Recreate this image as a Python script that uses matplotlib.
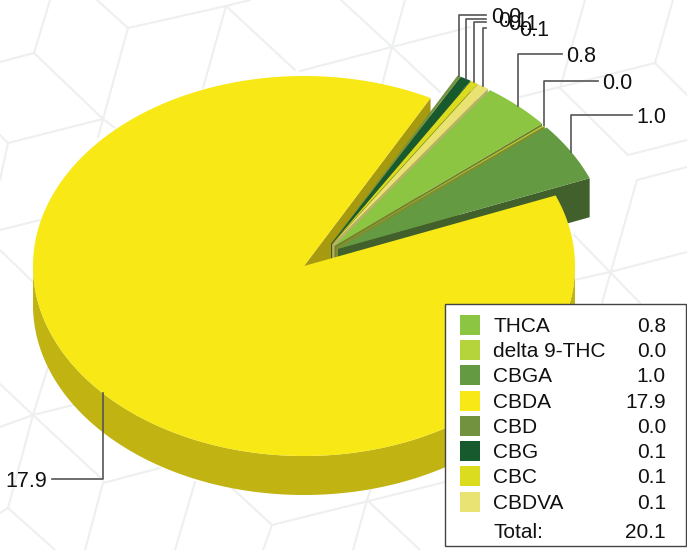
import numpy as np
import matplotlib
matplotlib.use('Agg')
import matplotlib.pyplot as plt
from matplotlib.patches import Polygon, Rectangle

plt.rcParams['font.family'] = ['Liberation Sans', 'DejaVu Sans']

# values, the labels only show one decimal
names = ['THCA', 'delta 9-THC', 'CBGA', 'CBDA', 'CBD', 'CBG', 'CBC', 'CBDVA']
values = [0.84, 0.02, 1.0, 17.9, 0.04, 0.13, 0.09, 0.14]
total_label = '20.1'
colors = ['#8bc541', '#b5d33a', '#649a41', '#f7e816', '#72923f', '#165a2e', '#dbdc1f', '#e8e372']
wall_colors = ['#73802c', '#7f8f30', '#41602b', '#a89a0e', '#5a7430', '#0f3f20', '#9a9a16', '#b8b06a']

# background cube pattern, pixel segments
bg_lines = [
    ((0, 62), (34, 53)), ((34, 53), (50, 0)), ((34, 53), (103, 119)), ((103, 119), (128, 28)),
    ((128, 28), (97, 0)), ((128, 28), (226, 6)), ((226, 6), (203, 88)), ((226, 6), (295, 70)),
    ((226, 6), (250, 0)), ((103, 119), (8, 143)), ((8, 143), (0, 135)), ((8, 143), (0, 180)),
    ((103, 119), (98, 137)), ((103, 119), (115, 128)), ((0, 230), (40, 220)), ((0, 250), (33, 282)),
    ((392, 47), (341, 0)), ((392, 47), (405, 0)), ((392, 47), (382, 85)), ((392, 47), (300, 71)),
    ((392, 47), (440, 92)), ((392, 47), (470, 27)), ((520, 97), (655, 63)), ((585, 0), (560, 88)),
    ((673, 0), (655, 63)), ((655, 63), (687, 95)), ((628, 155), (560, 88)), ((628, 155), (687, 140)),
    ((637, 180), (687, 167)), ((637, 180), (602, 303)), ((610, 272), (574, 235)), ((610, 272), (574, 280)),
    ((610, 272), (640, 303)), ((610, 272), (687, 252)), ((33, 415), (0, 427)), ((33, 415), (73, 405)),
    ((33, 415), (48, 367)), ((33, 415), (103, 480)), ((33, 415), (0, 384)), ((33, 415), (8, 508)),
    ((8, 508), (0, 513)), ((8, 508), (55, 550)), ((103, 483), (160, 468)), ((103, 483), (85, 550)),
    ((195, 482), (175, 550)), ((232, 488), (272, 525)), ((272, 525), (263, 550)), ((272, 525), (445, 482)),
    ((367, 500), (353, 550)), ((367, 500), (420, 550)), ((367, 500), (371, 488)),
]

# pie layout in pixels
cx, cy = 304, 266
rx, ry = 271, 190
depth = 39
explode = 42
start_angle = 21.8 + 360 * (1.0 + 0.02 + 0.84) / sum(values)

fig = plt.figure(figsize=(6.87, 5.5), dpi=100)
ax = fig.add_axes([0, 0, 1, 1])
ax.set_xlim(0, 687)
ax.set_ylim(550, 0)
ax.axis('off')

for a, b in bg_lines:
    ax.plot([a[0], b[0]], [a[1], b[1]], color='#edeff0', lw=1.5, zorder=1, solid_capstyle='round')

# slices go clockwise
fracs = np.array(values) / sum(values) * 360
ends = start_angle - np.cumsum(fracs)
starts = ends + fracs


def rim(ox, oy, a0, a1):
    t = np.radians(np.linspace(a0, a1, max(int(abs(a1 - a0)) * 2, 2)))
    return np.column_stack([ox + rx * np.cos(t), oy - ry * np.sin(t)])


big = int(np.argmax(values))
offsets = []
for i in range(len(values)):
    if i == big:
        offsets.append((cx, cy))
    else:
        # the small slices are pulled out nearly together, not along their own middle
        m = ((starts[i] + ends[i]) / 2) % 360
        d = np.radians(36 + 0.45 * (m - 31))
        offsets.append((cx + explode * np.cos(d), cy - explode * 0.7 * np.sin(d)))

# big slice: front rim wall and the cut wall in the gap
ox, oy = offsets[big]
front = rim(ox, oy, 180, 360)
ax.add_patch(Polygon(np.vstack([front, (front + [0, depth])[::-1]]), fc='#c1b312', ec='none', zorder=2))
back = rim(ox, oy, ends[big], ends[big])[0]
ax.add_patch(Polygon([(ox, oy), back, back + [0, depth], (ox, oy + depth)], fc=wall_colors[big], ec='none', zorder=2))

# walls of the pulled out slices
order = [4, 5, 6, 7, 0, 1, 2]
for i in order:
    ox, oy = offsets[i]
    p = rim(ox, oy, ends[i], ends[i])[0]
    ax.add_patch(Polygon([(ox, oy), p, p + [0, depth], (ox, oy + depth)], fc=wall_colors[i], ec='none', zorder=3))

# top faces
ox, oy = offsets[big]
ax.add_patch(Polygon(np.vstack([[(ox, oy)], rim(ox, oy, starts[big], ends[big])]), fc=colors[big], ec='none', zorder=4))
for i in order:
    ox, oy = offsets[i]
    ax.add_patch(Polygon(np.vstack([[(ox, oy)], rim(ox, oy, starts[i], ends[i])]), fc=colors[i], ec='none', zorder=5))

# labels with leader lines
label_x = [566, 602, 636, 5, 491, 498, 508, 519]
label_y = [54, 81, 115, 479, 15, 19, 22, 28]
for i in range(len(values)):
    ox, oy = offsets[i]
    m = (starts[i] + ends[i]) / 2
    p = rim(ox, oy, m, m)[0]
    txt = '%.1f' % values[i]
    if i == big:
        end_x = 52
    elif i >= 4:
        end_x = 486
    else:
        end_x = label_x[i] - 4
    ax.plot([p[0], p[0], end_x], [p[1], label_y[i], label_y[i]], color='#555555', lw=1.2, zorder=6)
    ax.text(label_x[i], label_y[i] + 8, txt, fontsize=15.5, color='#111111', va='baseline', ha='left', zorder=7)

# legend box
ax.add_patch(Rectangle((445, 304), 241, 242, fc='white', ec='#444444', lw=1.0, zorder=8))
row_y = [325, 350, 375, 400.5, 426, 451, 476, 502]
for i in range(len(names)):
    ax.add_patch(Rectangle((460, row_y[i] - 10), 20, 20, fc=colors[i], ec='none', zorder=9))
    ax.text(493, row_y[i] + 7, names[i], fontsize=15, color='#111111', va='baseline', ha='left', zorder=9)
    ax.text(666, row_y[i] + 7, '%.1f' % values[i], fontsize=15, color='#111111', va='baseline', ha='right', zorder=9)
ax.text(493, 538, 'Total:', fontsize=15, color='#111111', va='baseline', ha='left', zorder=9)
ax.text(666, 538, total_label, fontsize=15, color='#111111', va='baseline', ha='right', zorder=9)

plt.savefig('out.png', dpi=100)
